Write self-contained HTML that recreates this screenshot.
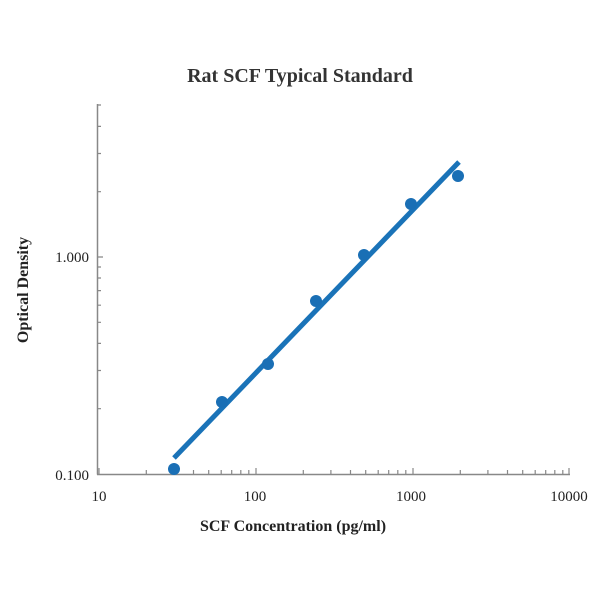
<!DOCTYPE html>
<html><head><style>body{margin:0;background:#fff}</style></head><body>
<svg width="600" height="600" xmlns="http://www.w3.org/2000/svg" font-family="Liberation Serif, serif">
<rect width="600" height="600" fill="#fff"/>
<text x="300" y="82" text-anchor="middle" font-size="20" font-weight="bold" fill="#333">Rat SCF  Typical Standard</text>
<g stroke="#888" stroke-width="1.5" fill="none">
<line x1="97.5" y1="104" x2="97.5" y2="474.5"/>
<line x1="97" y1="474.5" x2="570" y2="474.5"/>
</g>
<g stroke="#888" stroke-width="1.2">
<path d="M99 474v-6M146.3 474v-4M173.9 474v-4M193.5 474v-4M208.7 474v-4M221.2 474v-4M231.7 474v-4M240.8 474v-4M248.8 474v-4M256 474v-6M303.3 474v-4M330.9 474v-4M350.5 474v-4M365.7 474v-4M378.2 474v-4M388.7 474v-4M397.8 474v-4M405.8 474v-4M413 474v-6M460.3 474v-4M487.9 474v-4M507.5 474v-4M522.7 474v-4M535.2 474v-4M545.7 474v-4M554.8 474v-4M562.8 474v-4M569 474v-6"/>
<path d="M97 408.7h4M97 370.5h4M97 343.4h4M97 322.3h4M97 305.2h4M97 290.6h4M97 278h4M97 267h4M97 257h6M97 191.7h4M97 153.5h4M97 126.4h4M97 105h4"/>
</g>
<line x1="174" y1="458" x2="459" y2="162" stroke="#1a73b8" stroke-width="5"/>
<g fill="#1a6fb5">
<circle cx="174" cy="469" r="6"/><circle cx="222" cy="402" r="6"/><circle cx="268" cy="364" r="6"/>
<circle cx="316" cy="301" r="6"/><circle cx="364" cy="255" r="6"/><circle cx="411" cy="204" r="6"/>
<circle cx="458" cy="176" r="6"/>
</g>
<g font-size="15" fill="#222" text-anchor="middle">
<text x="99" y="501">10</text><text x="255" y="501">100</text><text x="411" y="501">1000</text><text x="569" y="501">10000</text>
</g>
<g font-size="15" fill="#222" text-anchor="end">
<text x="89" y="480">0.100</text><text x="89" y="262">1.000</text>
</g>
<text x="293" y="531" text-anchor="middle" font-size="16" font-weight="bold" fill="#222">SCF Concentration (pg/ml)</text>
<text transform="translate(28,290) rotate(-90)" text-anchor="middle" font-size="16" font-weight="bold" fill="#222">Optical Density</text>
</svg>
</body></html>
